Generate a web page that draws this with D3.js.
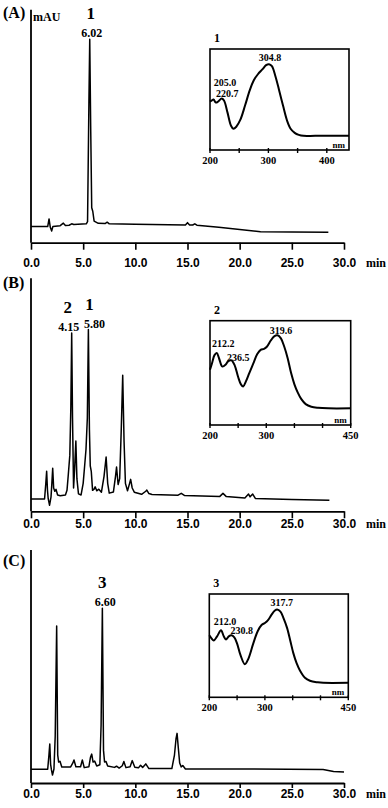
<!DOCTYPE html>
<html>
<head>
<meta charset="utf-8">
<script src="https://cdn.jsdelivr.net/npm/d3@7"></script>
<style>
  body { margin: 0; background: #fff; }
  svg { display: block; font-family: "Liberation Serif", "Times New Roman", serif; font-weight: bold; }
</style>
</head>
<body>
<div id="chart"></div>
<script>
// ---- data: chromatograms [time (min), signal (mAU, rel.)] ----
const traceA = [[0,6.9],[1.6,6.9],[1.73,10.2],[1.85,6.6],[1.98,5.0],[2.1,7.0],[2.8,7.3],[3.1,8.4],[3.3,7.4],[3.65,7.5],[3.9,8.1],[4.1,7.8],
  [5.3,8.1],[5.42,9],[5.55,60],[5.63,87.3],[5.72,50],[5.82,15],[5.92,13.5],[6.05,9.3],[6.45,8.3],[7.1,8.2],[7.3,8.8],[7.5,8.1],
  [10,7.9],[14.8,7.6],[15.0,8.6],[15.2,7.6],[15.5,7.6],[15.7,8.1],[15.9,7.5],[18,6.6],[22,4.7],[25,4.6],[28.5,4.5]];

const traceB = [[0,5.3],[1.3,5.3],[1.42,12],[1.5,17.2],[1.58,9],[1.65,5.4],[1.78,2.6],[1.92,6.2],[2.0,12],[2.08,18.5],[2.17,10],[2.28,8.6],
  [2.4,9.4],[2.55,7],[2.8,6.7],[3.3,7],[3.45,9],[3.58,16],[3.72,24],[3.82,45],[3.9,76.5],[3.98,40],[4.08,10],[4.18,18],[4.3,30.2],
  [4.4,14],[4.55,7.5],[4.8,7.0],[5.0,12],[5.15,20],[5.27,26.5],[5.4,40],[5.5,78],[5.6,35],[5.68,19.5],[5.78,17],[5.9,9],[6.05,9.5],
  [6.15,10.5],[6.3,8.8],[6.5,9.5],[6.75,8.2],[7.0,15],[7.2,23.3],[7.35,12],[7.5,7.8],[7.9,8.3],[8.1,15],[8.2,19],[8.35,11.5],
  [8.5,14],[8.65,35],[8.79,58.4],[8.92,30],[9.05,12],[9.25,8.8],[9.45,12],[9.55,13.7],[9.7,10],[9.9,8.2],[10.6,7.3],[11.0,8.6],
  [11.1,9.1],[11.3,7.6],[11.6,7.2],[14.1,6.9],[14.4,7.7],[14.7,6.8],[18.1,6.4],[18.4,7.7],[18.7,6.4],[20.5,5.7],[20.85,7.4],
  [21.0,6.2],[21.25,7.4],[21.5,5.5],[25,5.1],[28.6,4.7]];

const traceC = [[0,5.9],[1.6,5.9],[1.72,12],[1.8,16.7],[1.88,8],[1.96,5.6],[2.06,3.4],[2.2,6],[2.32,20],[2.46,67.4],[2.56,12],[2.65,9],
  [2.78,9.3],[2.95,6.9],[3.8,6.9],[4.0,8.5],[4.12,9.9],[4.3,7],[4.75,7],[4.92,9.9],[5.1,6.6],[5.55,7],[5.7,11],[5.82,12.4],[5.95,9],
  [6.1,9.4],[6.3,7.3],[6.6,7.8],[6.72,25],[6.84,75],[6.95,14],[7.05,9],[7.19,9.2],[7.35,7.3],[8.0,6.7],[8.2,7.2],[8.45,6.4],
  [8.75,7.4],[8.9,9.2],[9.1,6.6],[9.5,7],[9.7,9.6],[9.95,6.8],[10.3,6.5],[10.5,7.6],[10.7,6.7],[11.0,8.2],[11.3,6.2],[13.5,6.2],
  [13.75,12],[13.9,19],[14.0,21.3],[14.12,15],[14.25,8.6],[14.4,6.9],[14.55,7.5],[14.8,6],[20,6],[28,5.8],[29,4.9],[30,4.7]];

// labelled peaks: apex time, compound no., reported retention time
const peaksA = [{t: 5.63, id: "1", rt: "6.02"}];
const peaksB = [{t: 3.9, id: "2", rt: "4.15"}, {t: 5.5, id: "1", rt: "5.80"}];
const peaksC = [{t: 6.84, id: "3", rt: "6.60"}];

// ---- data: UV spectra [wavelength (nm), absorbance (rel.)] ----
const spectrumA = [[200,0.48],[203,0.49],[206,0.50],[210,0.47],[214,0.48],[220,0.51],[224,0.49],[230,0.37],[236,0.24],[240,0.21],
  [245,0.23],[252,0.30],[260,0.44],[268,0.59],[275,0.69],[282,0.75],[290,0.80],[296,0.84],[301,0.85],[306,0.83],[312,0.73],
  [318,0.60],[325,0.44],[332,0.29],[338,0.21],[345,0.17],[352,0.15],[360,0.14],[380,0.14],[438,0.14]];
const spectrumB = [[200,0.53],[204,0.60],[208,0.67],[212,0.69],[216,0.64],[222,0.56],[228,0.58],[232,0.61],[238,0.62],[244,0.57],
  [250,0.46],[255,0.39],[259,0.37],[264,0.42],[270,0.50],[277,0.59],[284,0.68],[290,0.72],[296,0.73],[301,0.75],[308,0.81],
  [314,0.85],[320,0.86],[326,0.83],[332,0.75],[338,0.64],[344,0.50],[350,0.39],[356,0.31],[362,0.25],[370,0.20],[380,0.175],
  [392,0.165],[410,0.16],[450,0.16]];
const spectrumC = [[200,0.60],[204,0.57],[208,0.55],[214,0.59],[221,0.65],[226,0.59],[230,0.56],[235,0.59],[240,0.60],[245,0.58],
  [250,0.52],[256,0.41],[264,0.32],[270,0.37],[279,0.52],[287,0.64],[294,0.70],[300,0.72],[306,0.75],[312,0.80],[318,0.84],
  [322,0.85],[328,0.83],[334,0.76],[340,0.67],[346,0.54],[351,0.43],[357,0.33],[363,0.26],[372,0.19],[381,0.16],[395,0.145],
  [405,0.14],[450,0.14]];

const specMaximaA = ["304.8", "205.0", "220.7"];
const specMaximaB = ["319.6", "212.2", "236.5"];
const specMaximaC = ["317.7", "212.0", "230.8"];

// tick labels
const timeTicks = [0, 5, 10, 15, 20, 25, 30];
const nmTicksA = [200, 300, 400];
const nmTicksB = [200, 300, 450];
const nmTicksC = [200, 300, 450];
const nmMinorTicks = [250, 350, 400];

// ---- layout ----
const W = 388, H = 808;
const plotH = 233;
const layout = {
  A: {axisY: 242.7, letterY: 18, tickY: 24, box: [210, 49, 349, 150], nmDomain: [200, 438],
      spec: [[60, 12], [15, 36.5], [17.3, 48]], rtDx: [2], idDx: [1]},
  B: {axisY: 511.3, letterY: 288, tickY: 17, box: [210, 320.7, 350.7, 425], nmDomain: [200, 450],
      spec: [[71, 13.3], [13.3, 26.3], [28.3, 39.8]], rtDx: [-3, 6], idDx: [-4, 1]},
  C: {axisY: 783, letterY: 566, tickY: 15, box: [209.3, 594, 348.3, 697.3], nmDomain: [200, 450],
      spec: [[72.4, 12], [15.7, 31], [32.4, 40]], rtDx: [3], idDx: [0]}
};

const panels = [
  {key: "A", trace: traceA, peaks: peaksA, spectrum: spectrumA, maxima: specMaximaA, specNo: "1", nmTicks: nmTicksA},
  {key: "B", trace: traceB, peaks: peaksB, spectrum: spectrumB, maxima: specMaximaB, specNo: "2", nmTicks: nmTicksB},
  {key: "C", trace: traceC, peaks: peaksC, spectrum: spectrumC, maxima: specMaximaC, specNo: "3", nmTicks: nmTicksC}
];

const svg = d3.select("#chart").append("svg")
  .attr("width", W)
  .attr("height", H);

const x = d3.scaleLinear().domain([0, 30]).range([31, 344]);

panels.forEach(p => {
  const L = layout[p.key];
  const y = d3.scaleLinear().domain([0, 100]).range([L.axisY, L.axisY - plotH]);
  const g = svg.append("g");

  // y axis (plain line)
  g.append("line")
    .attr("x1", x(0)).attr("x2", x(0))
    .attr("y1", y(100)).attr("y2", y(0))
    .attr("stroke", "#000").attr("stroke-width", 1.8);

  // x axis
  const xAxis = g.append("g")
    .attr("transform", `translate(0,${L.axisY})`)
    .call(d3.axisBottom(x).tickValues(timeTicks).tickSize(p.key === "C" ? 5 : 7).tickSizeOuter(0).tickFormat(d3.format(".1f")));
  xAxis.select(".domain").attr("stroke-width", 1.8);
  xAxis.selectAll(".tick line").attr("stroke-width", 1.6);
  xAxis.selectAll(".tick text")
    .attr("y", L.tickY)
    .attr("dy", 0)
    .style("font-family", "inherit")
    .style("font-size", "12px")
    .style("font-weight", "bold");

  g.append("text")
    .attr("x", 366).attr("y", L.axisY + L.tickY)
    .style("font-size", "12px")
    .text("min");

  g.append("text")
    .attr("x", 3).attr("y", L.letterY)
    .style("font-size", "16px")
    .text(`(${p.key})`);

  if (p.key === "A") {
    g.append("text")
      .attr("x", 33).attr("y", 21)
      .style("font-size", "12px")
      .text("mAU");
  }

  // chromatogram
  g.append("path")
    .datum(p.trace)
    .attr("fill", "none")
    .attr("stroke", "#000")
    .attr("stroke-width", 1.5)
    .attr("stroke-linejoin", "round")
    .attr("d", d3.line().x(d => x(d[0])).y(d => y(d[1])));

  // peak labels
  p.peaks.forEach((pk, i) => {
    const apex = p.trace.find(d => d[0] === pk.t);
    g.append("text")
      .attr("x", x(pk.t) + L.rtDx[i]).attr("y", y(apex[1]) - 2)
      .attr("text-anchor", "middle")
      .style("font-size", "12px")
      .text(pk.rt);
    g.append("text")
      .attr("x", x(pk.t) + L.idDx[i]).attr("y", y(apex[1]) - 20)
      .attr("text-anchor", "middle")
      .style("font-size", "17px")
      .text(pk.id);
  });

  // inset UV spectrum
  const [bx0, by0, bx1, by1] = L.box;
  const sx = d3.scaleLinear().domain(L.nmDomain).range([bx0, bx1]);
  const sy = d3.scaleLinear().domain([0, 1]).range([by1, by0]);

  const inset = svg.append("g");
  inset.append("rect")
    .attr("x", bx0).attr("y", by0)
    .attr("width", bx1 - bx0).attr("height", by1 - by0)
    .attr("fill", "none").attr("stroke", "#000").attr("stroke-width", 1.6);

  inset.selectAll(".nmtick")
    .data(p.nmTicks.concat(nmMinorTicks.filter(v => !p.nmTicks.includes(v) && v < L.nmDomain[1])))
    .join("line")
    .attr("x1", d => sx(d)).attr("x2", d => sx(d))
    .attr("y1", by1 - 2).attr("y2", by1 + 3)
    .attr("stroke", "#000").attr("stroke-width", 1.4);

  inset.selectAll(".nmlab")
    .data(p.nmTicks)
    .join("text")
    .attr("x", d => sx(d)).attr("y", by1 + 14)
    .attr("text-anchor", "middle")
    .style("font-size", "10.5px")
    .text(d => d);

  inset.append("text")
    .attr("x", bx1 - 4).attr("y", by1 - 2)
    .attr("text-anchor", "end")
    .style("font-size", "9px")
    .text("nm");

  inset.append("text")
    .attr("x", bx0 + 4).attr("y", by0 - 7)
    .style("font-size", "12px")
    .text(p.specNo);

  inset.append("path")
    .datum(p.spectrum)
    .attr("fill", "none")
    .attr("stroke", "#000")
    .attr("stroke-width", 2)
    .attr("d", d3.line().curve(d3.curveCatmullRom.alpha(0.5)).x(d => sx(d[0])).y(d => sy(d[1])));

  p.maxima.forEach((m, i) => {
    inset.append("text")
      .attr("x", bx0 + L.spec[i][0]).attr("y", by0 + L.spec[i][1])
      .attr("text-anchor", "middle")
      .style("font-size", "10px")
      .text(m);
  });
});
</script>
</body>
</html>
